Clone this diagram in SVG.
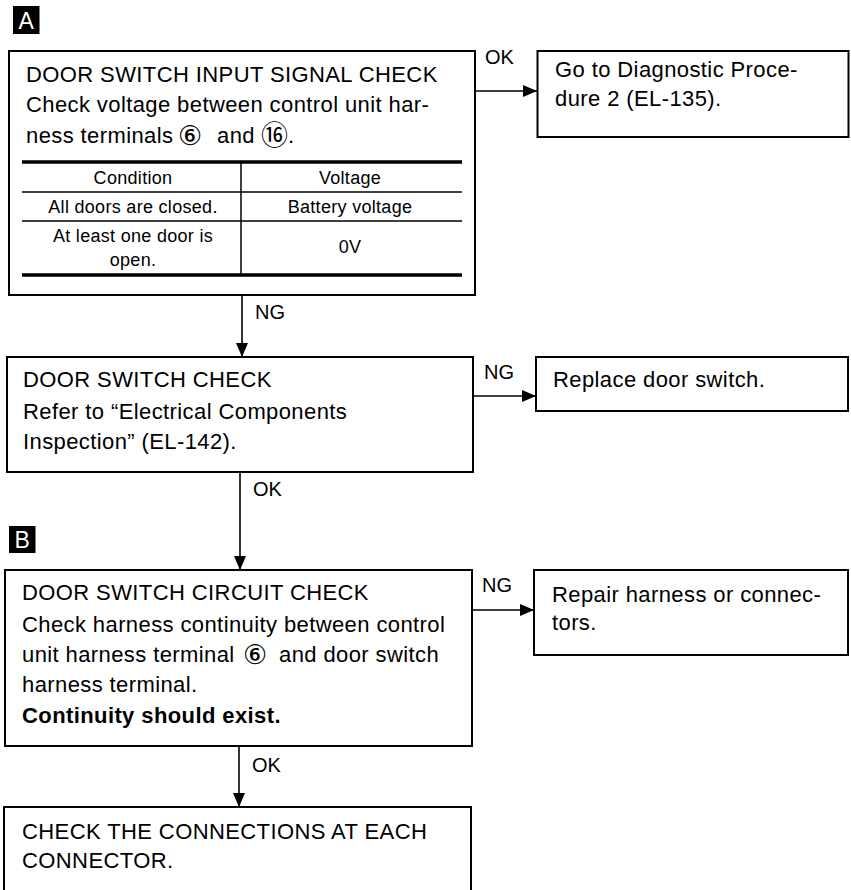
<svg xmlns="http://www.w3.org/2000/svg" width="851" height="890" viewBox="0 0 851 890">
  <defs>
    <marker id="arrow" markerUnits="userSpaceOnUse" markerWidth="14" markerHeight="12" viewBox="0 0 14 12" refX="14" refY="6" orient="auto">
      <path d="M0,0 L14,6 L0,12 Z" fill="#000"/>
    </marker>
    <style>
      text { font-family: "Liberation Sans", Arial, Helvetica, sans-serif; fill: #000; }
      .box { fill: #fff; stroke: #000; stroke-width: 2; }
      .body { font-size: 22px; letter-spacing: 0.4px; }
      .tbl { font-size: 18px; letter-spacing: 0.3px; }
      .lbl { font-size: 20px; }
      .tag { font-size: 23px; fill: #fff; }
      .circ { font-family: "DejaVu Sans", "Noto Sans CJK JP", sans-serif; font-size: 27px; }
      .conn line { stroke: #000; stroke-width: 1.6; marker-end: url(#arrow); }
      .rule { stroke: #000; }
    </style>
  </defs>
  <rect width="851" height="890" fill="#fff"/>

  <!-- Section tags -->
  <g id="tag-a">
    <rect x="13" y="6" width="26.5" height="28" fill="#000"/>
    <text class="tag" x="26.2" y="29" text-anchor="middle">A</text>
  </g>
  <g id="tag-b">
    <rect x="9" y="526" width="26.5" height="27" fill="#000"/>
    <text class="tag" x="22.2" y="548" text-anchor="middle">B</text>
  </g>

  <!-- Step 1: input signal check with voltage table -->
  <g id="input-signal-check">
    <rect class="box" x="9" y="51" width="466" height="244"/>
    <text class="body" x="26" y="82">DOOR SWITCH INPUT SIGNAL CHECK</text>
    <text class="body" x="26" y="112">Check voltage between control unit har-</text>
    <text class="body" x="26" y="143">ness terminals</text>
    <text class="circ" x="178" y="145">⑥</text>
    <text class="body" x="217" y="143">and</text>
    <text class="circ" x="261" y="145">⑯</text>
    <text class="body" x="288" y="143">.</text>
    <line class="rule" x1="22" y1="162" x2="462" y2="162" stroke-width="3.5"/>
    <line class="rule" x1="22" y1="192" x2="462" y2="192" stroke-width="1.5"/>
    <line class="rule" x1="22" y1="221" x2="462" y2="221" stroke-width="1.5"/>
    <line class="rule" x1="22" y1="275" x2="462" y2="275" stroke-width="3.5"/>
    <line class="rule" x1="241" y1="162" x2="241" y2="275" stroke-width="1.5"/>
    <text class="tbl" x="133" y="184" text-anchor="middle">Condition</text>
    <text class="tbl" x="350" y="184" text-anchor="middle">Voltage</text>
    <text class="tbl" x="133" y="213" text-anchor="middle">All doors are closed.</text>
    <text class="tbl" x="350" y="213" text-anchor="middle">Battery voltage</text>
    <text class="tbl" x="133" y="242" text-anchor="middle">At least one door is</text>
    <text class="tbl" x="133" y="266" text-anchor="middle">open.</text>
    <text class="tbl" x="350" y="253" text-anchor="middle">0V</text>
  </g>

  <g id="goto-procedure-2">
    <rect class="box" x="537.5" y="51" width="311" height="86"/>
    <text class="body" x="555" y="77">Go to Diagnostic Proce-</text>
    <text class="body" x="555" y="106">dure 2 (EL-135).</text>
  </g>

  <!-- Step 2: door switch check -->
  <g id="door-switch-check">
    <rect class="box" x="7" y="357" width="466" height="115"/>
    <text class="body" x="23" y="387">DOOR SWITCH CHECK</text>
    <text class="body" x="23" y="419">Refer to “Electrical Components</text>
    <text class="body" x="23" y="449">Inspection” (EL-142).</text>
  </g>

  <g id="replace-door-switch">
    <rect class="box" x="536" y="357" width="312" height="54"/>
    <text class="body" x="553" y="387">Replace door switch.</text>
  </g>

  <!-- Step 3: circuit continuity check -->
  <g id="door-switch-circuit-check">
    <rect class="box" x="5" y="570" width="467" height="176"/>
    <text class="body" x="22" y="600">DOOR SWITCH CIRCUIT CHECK</text>
    <text class="body" x="22" y="632">Check harness continuity between control</text>
    <text class="body" x="22" y="662">unit harness terminal</text>
    <text class="circ" x="243" y="664">⑥</text>
    <text class="body" x="279" y="662">and door switch</text>
    <text class="body" x="22" y="692">harness terminal.</text>
    <text class="body" x="22" y="723" font-weight="bold">Continuity should exist.</text>
  </g>

  <g id="repair-harness">
    <rect class="box" x="534" y="570" width="314" height="85"/>
    <text class="body" x="552" y="602">Repair harness or connec-</text>
    <text class="body" x="552" y="630">tors.</text>
  </g>

  <!-- Step 4: connector inspection (box runs off the sheet) -->
  <g id="check-connections">
    <rect class="box" x="4" y="807" width="467" height="100"/>
    <text class="body" x="22" y="839">CHECK THE CONNECTIONS AT EACH</text>
    <text class="body" x="22" y="868">CONNECTOR.</text>
  </g>

  <!-- Connectors and their result labels -->
  <g id="connectors" class="conn">
    <line x1="475" y1="91" x2="537" y2="91"/>
    <line x1="242" y1="296" x2="242" y2="357"/>
    <line x1="473" y1="396" x2="536" y2="396"/>
    <line x1="240" y1="473" x2="240" y2="570"/>
    <line x1="472" y1="610" x2="534" y2="610"/>
    <line x1="239" y1="747" x2="239" y2="807"/>
  </g>
  <g id="connector-labels">
    <text class="lbl" x="485" y="64">OK</text>
    <text class="lbl" x="255" y="319">NG</text>
    <text class="lbl" x="484" y="379">NG</text>
    <text class="lbl" x="253" y="496">OK</text>
    <text class="lbl" x="482" y="592">NG</text>
    <text class="lbl" x="252" y="772">OK</text>
  </g>
</svg>
